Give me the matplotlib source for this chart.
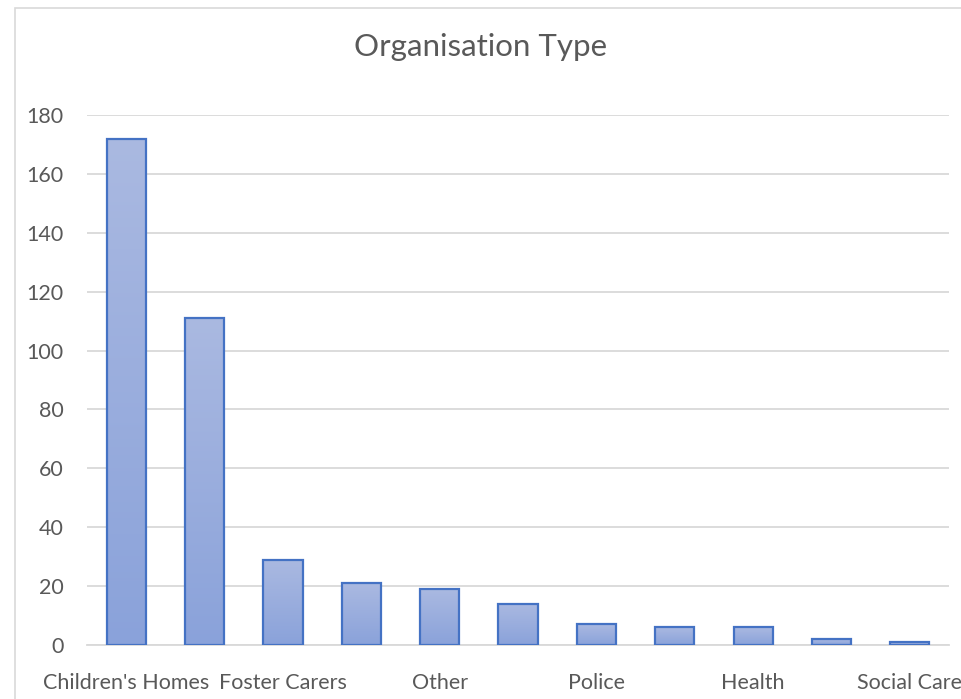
import numpy as np
import matplotlib
matplotlib.use('Agg')
import matplotlib.pyplot as plt
from matplotlib.colors import LinearSegmentedColormap
from matplotlib.patches import Rectangle

# data (only every second category label is shown)
categories = ["Children's Homes", "", "Foster Carers", "", "Other", "",
              "Police", "", "Health", "", "Social Care"]
values = [172, 111, 29, 21, 19, 14, 7, 6, 6, 2, 1]
yticks = [0, 20, 40, 60, 80, 100, 120, 140, 160, 180]

plt.rcParams['font.family'] = ['Lato', 'DejaVu Sans']
grey = '#595959'

fig = plt.figure(figsize=(9.62, 6.99), dpi=100)
ax = fig.add_axes([87/962, 1 - 645/699, 862/962, 530/699])

# outer chart border
fig.patches.append(Rectangle((15/962, -0.01), 1.0, 1 - 8/699 + 0.01,
                             transform=fig.transFigure, fill=False,
                             edgecolor='#D9D9D9', lw=1.2, zorder=0))

x = np.arange(len(values))
bars = ax.bar(x, values, width=0.5, color='none', edgecolor='#4472C4',
              linewidth=1.6, zorder=3)

# vertical gradient inside each bar, lighter at the top
grad_cmap = LinearSegmentedColormap.from_list('bar_grad', ['#8AA2DA', '#AAB9E1'])
grad = np.linspace(0, 1, 256).reshape(-1, 1)
for b in bars:
    x0, w, h = b.get_x(), b.get_width(), b.get_height()
    im = ax.imshow(grad, cmap=grad_cmap, origin='lower', aspect='auto',
                   extent=[x0, x0 + w, 0, h], zorder=2)
    im.set_clip_path(b)

ax.set_xlim(-0.5, len(values) - 0.5)
ax.set_ylim(0, 180)
ax.set_yticks(yticks)
ax.set_xticks(x)
ax.set_xticklabels(categories)

ax.grid(axis='y', color='#D9D9D9', lw=1.3, zorder=0)
ax.set_axisbelow(True)
for s in ['top', 'right', 'left']:
    ax.spines[s].set_visible(False)
ax.spines['bottom'].set_color('#D9D9D9')
ax.spines['bottom'].set_linewidth(1.3)

ax.tick_params(axis='both', length=0, labelsize=15.5, colors=grey)
ax.tick_params(axis='y', pad=17)
ax.tick_params(axis='x', pad=20)

fig.text(0.5, 1 - 47/699, 'Organisation Type', ha='center', va='center',
         fontsize=22.5, color=grey)

fig.savefig('out.png', dpi=100)
